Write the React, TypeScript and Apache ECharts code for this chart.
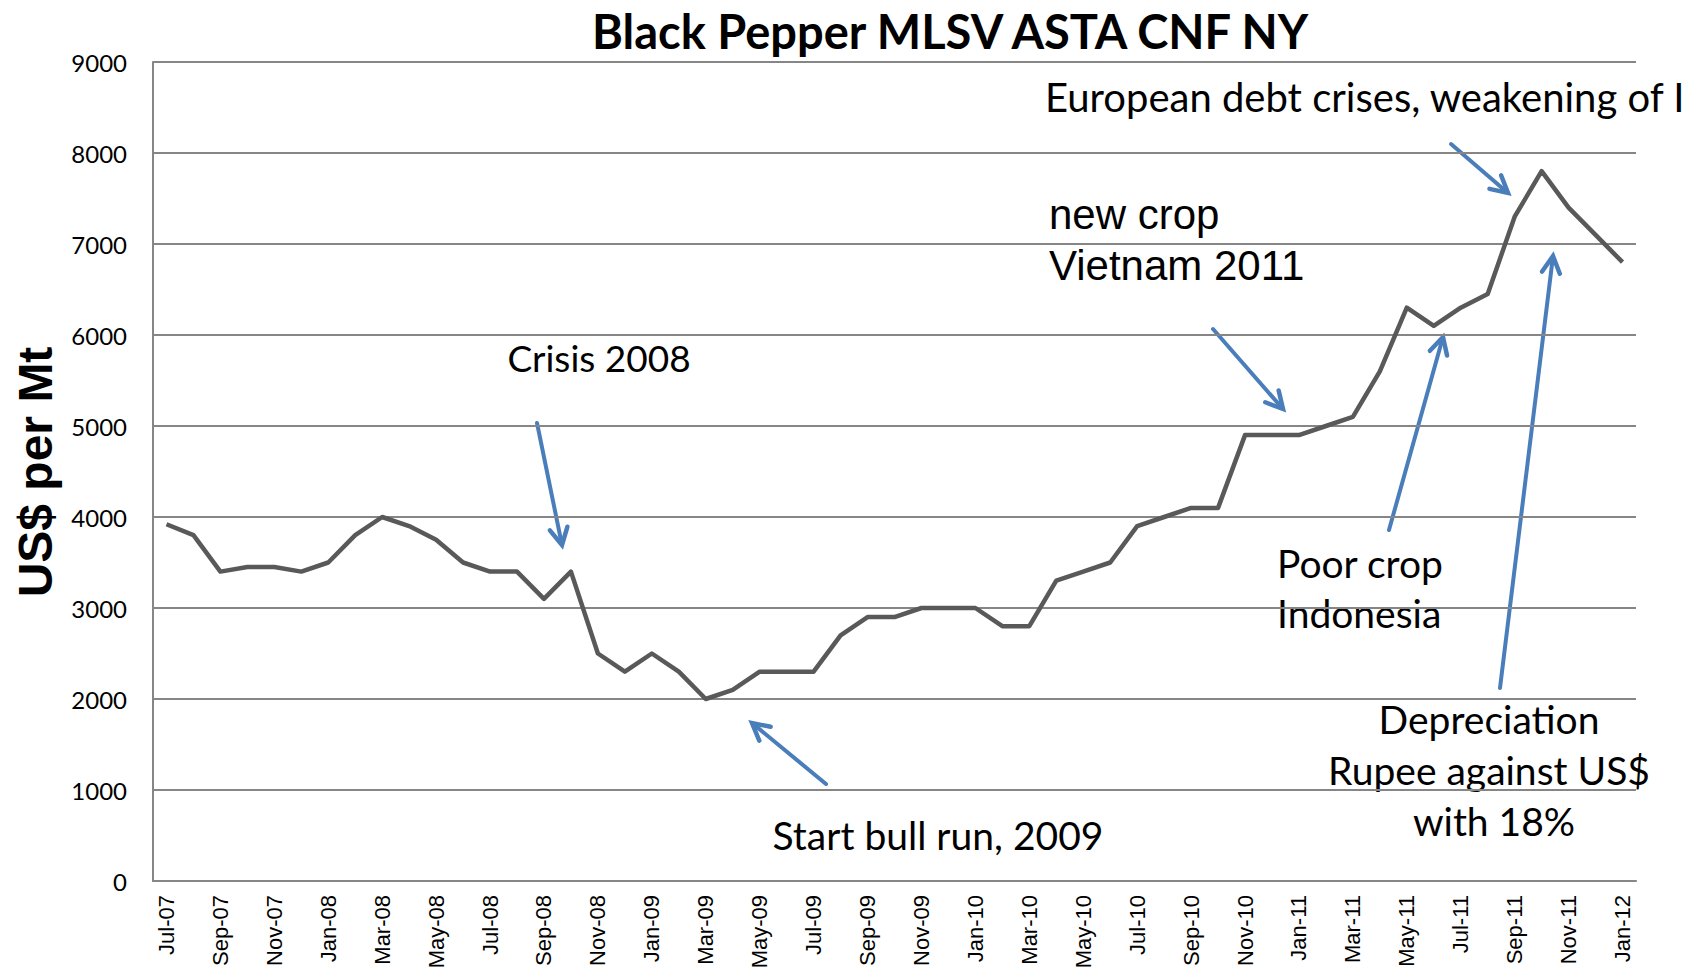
import React, { useEffect, useRef } from "react";
import * as echarts from "echarts";

const months = [
  "Jul-07", "Aug-07", "Sep-07", "Oct-07", "Nov-07", "Dec-07",
  "Jan-08", "Feb-08", "Mar-08", "Apr-08", "May-08", "Jun-08", "Jul-08", "Aug-08", "Sep-08", "Oct-08", "Nov-08", "Dec-08",
  "Jan-09", "Feb-09", "Mar-09", "Apr-09", "May-09", "Jun-09", "Jul-09", "Aug-09", "Sep-09", "Oct-09", "Nov-09", "Dec-09",
  "Jan-10", "Feb-10", "Mar-10", "Apr-10", "May-10", "Jun-10", "Jul-10", "Aug-10", "Sep-10", "Oct-10", "Nov-10", "Dec-10",
  "Jan-11", "Feb-11", "Mar-11", "Apr-11", "May-11", "Jun-11", "Jul-11", "Aug-11", "Sep-11", "Oct-11", "Nov-11", "Dec-11",
  "Jan-12",
];

const prices = [
  3920, 3800, 3400, 3450, 3450, 3400,
  3500, 3800, 4000, 3900, 3750, 3500, 3400, 3400, 3100, 3400, 2500, 2300,
  2500, 2300, 2000, 2100, 2300, 2300, 2300, 2700, 2900, 2900, 3000, 3000,
  3000, 2800, 2800, 3300, 3400, 3500, 3900, 4000, 4100, 4100, 4900, 4900,
  4900, 5000, 5100, 5600, 6300, 6100, 6300, 6450, 7300, 7800, 7400, 7100,
  6800,
];

const titleText = "Black Pepper MLSV ASTA CNF NY";
const yAxisTitle = "US$ per Mt";

const CAL = "Lato, 'Open Sans', sans-serif";
const ARIAL = "'Liberation Sans', Arial, sans-serif";
const BLUE = "#4a7ebb";

function arrow(x1: number, y1: number, x2: number, y2: number) {
  const a = Math.atan2(y2 - y1, x2 - x1);
  const L = 19;
  const t = (28 * Math.PI) / 180;
  const p1 = [x2 - L * Math.cos(a - t), y2 - L * Math.sin(a - t)];
  const p2 = [x2 - L * Math.cos(a + t), y2 - L * Math.sin(a + t)];
  return {
    type: "group",
    silent: true,
    children: [
      {
        type: "line",
        shape: { x1, y1, x2: x2 - 2 * Math.cos(a), y2: y2 - 2 * Math.sin(a) },
        style: { stroke: BLUE, lineWidth: 4, lineCap: "round" },
      },
      {
        type: "polyline",
        shape: { points: [p1, [x2, y2], p2] },
        style: { stroke: BLUE, lineWidth: 4.5, lineCap: "round", lineJoin: "miter", fill: null },
      },
    ],
  };
}

function label(text: string, x: number, y: number, size: number, align: string, family = CAL, weight = "normal") {
  return {
    type: "text",
    x,
    y,
    silent: true,
    style: {
      text,
      fontSize: size,
      fontFamily: family,
      fontWeight: weight,
      fill: "#000",
      textAlign: align,
      textVerticalAlign: "middle",
    },
  };
}

export default function App() {
  const ref = useRef<HTMLDivElement>(null);

  useEffect(() => {
    document.body.style.margin = "0";
    const chart = echarts.init(ref.current!, null, { renderer: "svg" });
    chart.setOption({
      animation: false,
      backgroundColor: "#ffffff",
      grid: { left: 153, right: 57, top: 62, bottom: 99, containLabel: false },
      xAxis: {
        type: "category",
        data: months,
        boundaryGap: true,
        axisLine: { show: true, lineStyle: { color: "#868686", width: 2 } },
        axisTick: { show: false },
        axisLabel: {
          interval: 1,
          rotate: 90,
          margin: 14,
          fontFamily: ARIAL,
          fontSize: 22,
          color: "#000",
        },
      },
      yAxis: {
        type: "value",
        min: 0,
        max: 9000,
        interval: 1000,
        axisLine: { show: true, lineStyle: { color: "#868686", width: 2 } },
        axisTick: { show: false },
        splitLine: { show: true, lineStyle: { color: "#868686", width: 2 } },
        axisLabel: {
          fontFamily: CAL,
          fontSize: 24,
          color: "#000",
          margin: 26,
          formatter: (v: number) => String(v),
        },
      },
      series: [
        {
          type: "line",
          data: prices,
          symbol: "none",
          lineStyle: { color: "#595959", width: 4.5, join: "round" },
          z: 3,
        },
      ],
      graphic: [
        label(titleText, 950, 31, 47, "center", CAL, "bold"),
        {
          type: "text",
          x: 35,
          y: 472,
          rotation: Math.PI / 2,
          silent: true,
          style: {
            text: yAxisTitle,
            fontSize: 48,
            fontFamily: ARIAL,
            fontWeight: "bold",
            fill: "#000",
            textAlign: "center",
            textVerticalAlign: "middle",
          },
        },
        label("European debt crises, weakening of I", 1045, 97, 40, "left"),
        label("new crop", 1049, 214, 42, "left", ARIAL),
        label("Vietnam 2011", 1049, 265, 42, "left", ARIAL),
        label("Crisis 2008", 599, 357, 37, "center"),
        label("Start bull run, 2009", 938, 835, 39, "center"),
        label("Poor crop", 1277, 563, 39, "left"),
        label("Indonesia", 1277, 613, 39, "left"),
        label("Depreciation", 1489, 719, 39, "center"),
        label("Rupee against US$", 1489, 770, 39, "center"),
        label("with 18%", 1494, 821, 39, "center"),
        arrow(537, 423, 562, 545),
        arrow(826, 784, 752, 723),
        arrow(1213, 329, 1283, 409),
        arrow(1451, 144, 1508, 193),
        arrow(1389, 530, 1443, 337),
        arrow(1500, 688, 1553, 256),
      ],
    });
    return () => chart.dispose();
  }, []);

  return <div ref={ref} style={{ width: 1693, height: 980 }} />;
}
